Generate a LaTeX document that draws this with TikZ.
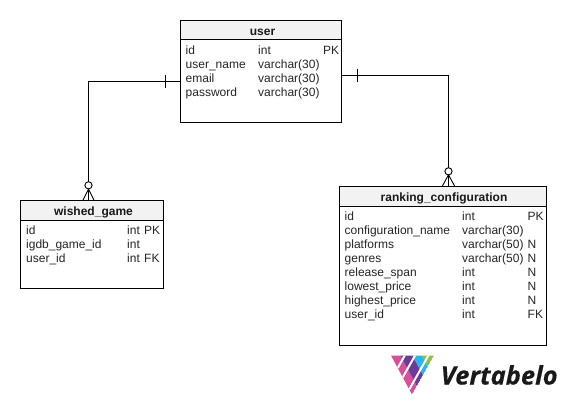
\documentclass[tikz,border=0pt]{standalone}
\usepackage{fontspec}
\setmainfont{Liberation Sans}
\newfontfamily\logofont[BoldItalicFeatures={FakeBold=0.35}]{Open Sans}
\usetikzlibrary{calc}
\definecolor{hdr}{HTML}{F2F2F2}
\definecolor{lmag}{HTML}{D8509A}
\definecolor{lpur}{HTML}{6B3A9B}
\definecolor{lcya}{HTML}{2BB5E8}
\definecolor{lgre}{HTML}{8CC04B}
\tikzset{
  x=1pt,y=-1pt,
  tbl/.style={draw=black,line width=1pt,fill=white,anchor=north west,inner sep=0pt,outer sep=0pt,minimum width=#1},
  hdrbox/.style={draw=black,line width=1pt,fill=hdr,anchor=north west,inner sep=0pt,outer sep=0pt,minimum width=#1},
  hdrtxt/.style={anchor=base,inner sep=0pt,font=\fontsize{12}{14}\selectfont\bfseries,text=black!90},
  fld/.style={anchor=base west,inner sep=0pt,font=\fontsize{12}{14}\selectfont,text=black!85},
  rel/.style={line width=1pt,draw=black},
  crow/.style={line width=0.9pt,draw=black},
  ring/.style={circle,draw=black,line width=0.9pt,fill=white,minimum size=7.2pt,inner sep=0pt},
  stripe/.style={draw=white,line width=2pt}
}
\begin{document}
\begin{tikzpicture}
\useasboundingbox (0,0) rectangle (566,405);
% tables
\node[tbl=161pt,minimum height=102pt] (user) at (180.5,20.5) {};
\node[hdrbox=161pt,minimum height=19pt] (userh) at (180.5,20.5) {};
\node[hdrtxt] (usert) at (262.5,35) {user};
\node[tbl=207pt,minimum height=159.5pt] (rank) at (339.5,186) {};
\node[hdrbox=207pt,minimum height=20pt] (rankh) at (339.5,186) {};
\node[hdrtxt] (rankt) at (444,201) {ranking\_configuration};
\node[tbl=143pt,minimum height=87.5pt] (wish) at (20.5,200.5) {};
\node[hdrbox=143pt,minimum height=19.5pt] (wishh) at (20.5,200.5) {};
\node[hdrtxt] (wisht) at (93.5,215) {wished\_game};
% user fields
\node[fld] (u1a) at (185.5,54.5) {id};
\node[fld] (u1b) at (258,54.5) {int};
\node[fld] (u1c) at (323,54.5) {PK};
\node[fld] (u2a) at (185.5,68.5) {user\_name};
\node[fld] (u2b) at (258,68.5) {varchar(30)};
\node[fld] (u3a) at (185.5,82.5) {email};
\node[fld] (u3b) at (258,82.5) {varchar(30)};
\node[fld] (u4a) at (185.5,96.5) {password};
\node[fld] (u4b) at (258,96.5) {varchar(30)};
% wished fields
\node[fld] (w1a) at (26,234.5) {id};
\node[fld] (w1b) at (127,234.5) {int};
\node[fld] (w1c) at (144,234.5) {PK};
\node[fld] (w2a) at (26,248.5) {igdb\_game\_id};
\node[fld] (w2b) at (127,248.5) {int};
\node[fld] (w3a) at (26,262.5) {user\_id};
\node[fld] (w3b) at (127,262.5) {int};
\node[fld] (w3c) at (144,262.5) {FK};
% ranking fields
\node[fld] (r1a) at (344.5,220.5) {id};
\node[fld] (r1b) at (462,220.5) {int};
\node[fld] (r1c) at (527.5,220.5) {PK};
\node[fld] (r2a) at (344.5,234.5) {configuration\_name};
\node[fld] (r2b) at (462,234.5) {varchar(30)};
\node[fld] (r3a) at (344.5,248.5) {platforms};
\node[fld] (r3b) at (462,248.5) {varchar(50)};
\node[fld] (r3c) at (527.5,248.5) {N};
\node[fld] (r4a) at (344.5,262.5) {genres};
\node[fld] (r4b) at (462,262.5) {varchar(50)};
\node[fld] (r4c) at (527.5,262.5) {N};
\node[fld] (r5a) at (344.5,276.5) {release\_span};
\node[fld] (r5b) at (462,276.5) {int};
\node[fld] (r5c) at (527.5,276.5) {N};
\node[fld] (r6a) at (344.5,290.5) {lowest\_price};
\node[fld] (r6b) at (462,290.5) {int};
\node[fld] (r6c) at (527.5,290.5) {N};
\node[fld] (r7a) at (344.5,304.5) {highest\_price};
\node[fld] (r7b) at (462,304.5) {int};
\node[fld] (r7c) at (527.5,304.5) {N};
\node[fld] (r8a) at (344.5,318.5) {user\_id};
\node[fld] (r8b) at (462,318.5) {int};
\node[fld] (r8c) at (527.5,318.5) {FK};
% connector end points
\coordinate (ul) at (180.5,81.5);
\coordinate (ur) at (341.5,75.5);
\coordinate (wt) at (88.5,200.5);
\coordinate (rt) at (448.5,186);
% connectors
\draw[rel] (ul) -| (wt);
\draw[rel] (ur) -| (rt);
\draw[crow] (165.5,75) -- (165.5,88);
\draw[crow] (357.5,69) -- (357.5,81.5);
\draw[crow] (88.5,189) -- (82.8,200.5) (88.5,189) -- (94.2,200.5);
\draw[crow] (448.5,174.8) -- (442.4,186) (448.5,174.8) -- (454.6,186);
\node[ring] (wr) at (88.5,185.3) {};
\node[ring] (rr) at (448.5,171.3) {};
% logo: triangle with apex A, top corners L and R
\coordinate (A) at (412,394.5);
\coordinate (L) at (391,355.5);
\coordinate (R) at (434,355.5);
\begin{scope}
\clip (A) -- (L) -- (R) -- cycle;
\fill[lmag] (A) -- ($(A)!.22!(R)$) -- ($(L)+.22*(R)-.22*(A)$) -- (L) -- cycle;
\fill[lpur] ($(A)!.22!(R)$) -- ($(A)!.5!(R)$) -- ($(L)+.5*(R)-.5*(A)$) -- ($(L)+.22*(R)-.22*(A)$) -- cycle;
\fill[lcya] ($(A)!.5!(R)$) -- ($(A)!.72!(R)$) -- ($(L)+.72*(R)-.72*(A)$) -- ($(L)+.5*(R)-.5*(A)$) -- cycle;
\fill[lgre] ($(A)!.72!(R)$) -- (R) -- ($(L)+(R)-(A)$) -- ($(L)+.72*(R)-.72*(A)$) -- cycle;
\draw[stripe] ($(A)!.68!(L)$) -- +($1.2*(R)-1.2*(A)$);
\draw[stripe] ($(A)!.44!(L)$) -- +($1.2*(R)-1.2*(A)$);
\draw[stripe] ($(A)!.13!(L)$) -- +($1.2*(R)-1.2*(A)$);
\end{scope}
\node[anchor=base west,inner sep=0pt,font=\logofont\fontsize{25.5}{28}\selectfont\itshape\bfseries,text=black!90] (logo) at (440.5,384.5) {Vertabelo};
\end{tikzpicture}
\end{document}
